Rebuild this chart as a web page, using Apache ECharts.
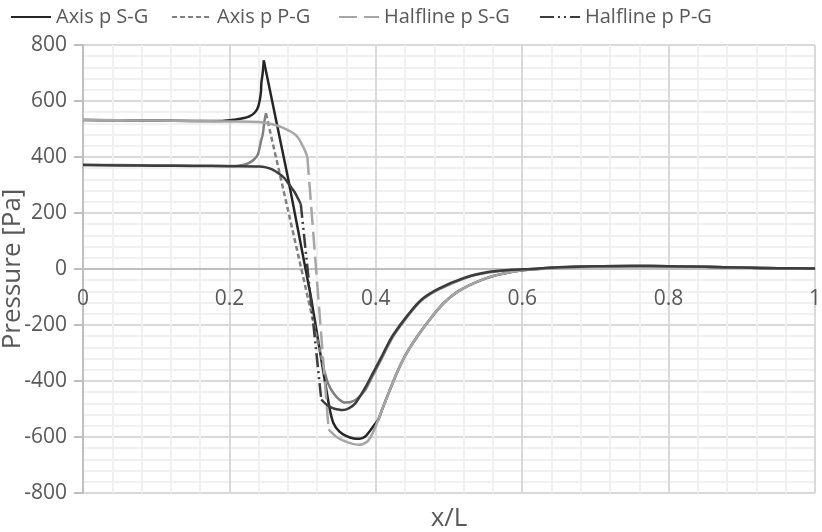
<!DOCTYPE html>
<html>
<head>
<meta charset="utf-8">
<script src="https://cdn.jsdelivr.net/npm/echarts@6/dist/echarts.min.js"></script>
<style>html,body{margin:0;padding:0;background:#fff}#c{width:822px;height:532px}</style>
</head>
<body>
<div id="c"></div>
<script>
// ---- data ----
var seriesNames = ['Axis p S-G', 'Axis p P-G', 'Halfline p S-G', 'Halfline p P-G'];
var xTicks = [0, 0.2, 0.4, 0.6, 0.8, 1];
var yTicks = [-800, -600, -400, -200, 0, 200, 400, 600, 800];

var axisSG_x = [0, 0.05, 0.1, 0.15, 0.19, 0.209, 0.22, 0.228, 0.235, 0.2395, 0.243, 0.2437, 0.2455, 0.247, 0.28, 0.3116, 0.333, 0.3366, 0.342, 0.35, 0.36, 0.37, 0.378, 0.386, 0.393, 0.3985, 0.4036, 0.4082, 0.4172, 0.4286, 0.44, 0.458, 0.4762, 0.4943, 0.517, 0.5533, 0.585, 0.612, 0.65, 0.7, 0.75, 0.8, 0.85, 0.9, 0.95, 1];
var axisSG_y = [532, 531, 530, 529, 529, 534, 539, 546, 560, 581, 629, 665, 700, 745, 326, -103, -440, -495, -550, -580, -597, -605, -606, -597, -575, -555, -537, -505, -445, -372, -310, -236, -172, -118, -73, -31, -11, -2, 5, 10, 11, 10, 8, 5, 3, 2];
var axisSG_breaks = [13, 17];   // straight section between these indices

var axisPG_x = [0, 0.05, 0.1, 0.15, 0.2, 0.209, 0.22, 0.227, 0.234, 0.239, 0.243, 0.2455, 0.248, 0.25, 0.33, 0.335, 0.342, 0.35, 0.358, 0.366, 0.375, 0.3855, 0.396, 0.406, 0.424, 0.4444, 0.4626, 0.4853, 0.5215, 0.5533, 0.585, 0.612, 0.65, 0.7, 0.75, 0.8, 0.85, 0.9, 0.95, 1];
var axisPG_y = [372, 371, 370, 369, 368, 368, 372, 379, 392, 410, 455, 480, 530, 556, -365, -410, -443, -466, -477, -475, -462, -432, -380, -330, -240, -166, -112, -74, -33, -13, -4, 0, 6, 10, 11, 10, 8, 5, 3, 2];
var axisPG_breaks = [13, 14];   // dashed section

var halfSG_x = [0, 0.05, 0.1, 0.15, 0.2, 0.24, 0.26, 0.272, 0.283, 0.29, 0.2956, 0.3, 0.304, 0.3065, 0.3355, 0.345, 0.355, 0.365, 0.3764, 0.388, 0.396, 0.4036, 0.4082, 0.4172, 0.4286, 0.44, 0.458, 0.4762, 0.4943, 0.517, 0.5533, 0.585, 0.612, 0.65, 0.7, 0.75, 0.8, 0.85, 0.9, 0.95, 1];
var halfSG_y = [533, 531, 530, 529, 527, 525, 516, 506, 492, 480, 462, 440, 418, 400, -573, -597, -612, -622, -628, -617, -585, -537, -505, -445, -372, -310, -236, -172, -118, -73, -31, -11, -2, 3, 8, 10, 10, 8, 5, 3, 2];
var halfSG_breaks = [13, 14];

var halfPG_x = [0, 0.05, 0.1, 0.15, 0.2, 0.241, 0.25, 0.259, 0.268, 0.275, 0.282, 0.289, 0.2956, 0.2975, 0.3255, 0.333, 0.341, 0.349, 0.355, 0.363, 0.372, 0.3855, 0.396, 0.406, 0.415, 0.424, 0.4444, 0.4626, 0.4853, 0.5215, 0.5533, 0.585, 0.612, 0.65, 0.7, 0.75, 0.8, 0.85, 0.9, 0.95, 1];
var halfPG_y = [371, 370, 369, 368, 367, 366, 363, 355, 340, 325, 300, 275, 242, 232, -466, -485, -497, -502, -504, -498, -480, -424, -372, -323, -276, -234, -162, -109, -71, -31, -11, -3, 0, 6, 10, 11, 10, 8, 5, 3, 2];
var halfPG_breaks = [13, 14];

// ---- chart ----
var FONT = '"Open Sans", sans-serif';
var LABEL = '#595959';
var GRID_TOP = 45, GRID_BOTTOM = 39, H = 532;
var plotH = H - GRID_TOP - GRID_BOTTOM;
var yMin = -800, yMax = 800;
// move the x axis (line + labels) up to the y = 0 position
var xAxisOffset = -plotH * (0 - yMin) / (yMax - yMin);

function pts(xs, ys, a, b) {
  var out = [];
  for (var i = a; i <= b; i++) out.push([xs[i], ys[i]]);
  return out;
}
function mk(name, data, color, dash, smooth) {
  return {
    name: name, type: 'line', data: data, symbol: 'none', showSymbol: false,
    smooth: smooth ? 0.3 : false,
    animation: false, silent: true,
    lineStyle: { color: color, width: 2.5, type: dash || 'solid', cap: 'butt', join: 'round' },
    itemStyle: { color: color }
  };
}
function split(name, xs, ys, br, color, dash) {
  var n = xs.length - 1;
  return [
    mk(name, pts(xs, ys, br[0], br[1]), color, dash, false),
    mk(name + ' \u200b', pts(xs, ys, 0, br[0]), color, null, true),
    mk(name + ' \u200b\u200b', pts(xs, ys, br[1], n), color, null, true)
  ];
}

var series = [];
series = series.concat(split(seriesNames[0], axisSG_x, axisSG_y, axisSG_breaks, '#262626', null));
series = series.concat(split(seriesNames[1], axisPG_x, axisPG_y, axisPG_breaks, '#808080', [5, 3]));
series = series.concat(split(seriesNames[2], halfSG_x, halfSG_y, halfSG_breaks, '#a6a6a6', [18, 7]));
series = series.concat(split(seriesNames[3], halfPG_x, halfPG_y, halfPG_breaks, '#3c3c3c', [14, 4, 2, 4, 2, 4]));

var legendLeft = [5, 166, 333, 534];
var legends = seriesNames.map(function (nm, i) {
  return {
    data: [nm], top: 2, left: legendLeft[i], itemWidth: 40, itemHeight: 20, itemGap: 10,
    itemStyle: { opacity: 0 },
    textStyle: { fontFamily: FONT, fontSize: 20, color: LABEL }
  };
});

var chart = echarts.init(document.getElementById('c'), null, { renderer: 'canvas' });
chart.setOption({
  backgroundColor: '#fff',
  animation: false,
  textStyle: { fontFamily: FONT },
  legend: legends,
  grid: { left: 83, right: 7, top: GRID_TOP, bottom: GRID_BOTTOM, containLabel: false, outerBoundsMode: 'none' },
  xAxis: {
    type: 'value', min: 0, max: 1, interval: 0.2, position: 'bottom', offset: xAxisOffset,
    axisLine: { show: true, onZero: false, lineStyle: { color: '#bfbfbf', width: 2 } },
    axisTick: { show: false },
    minorTick: { show: false, splitNumber: 5 },
    axisLabel: { margin: 20, fontSize: 21, color: LABEL, fontFamily: FONT,
      formatter: function (v) { return String(+v.toFixed(1)); } },
    splitLine: { show: true, lineStyle: { color: '#d9d9d9', width: 2 } },
    minorSplitLine: { show: true, lineStyle: { color: '#f0f0f0', width: 2 } }
  },
  yAxis: {
    type: 'value', min: yMin, max: yMax, interval: 200,
    name: 'Pressure [Pa]', nameLocation: 'middle', nameGap: 57, nameRotate: 90,
    nameMoveOverlap: false,
    nameTextStyle: { fontSize: 26, color: LABEL, fontFamily: FONT },
    axisLine: { show: true, onZero: false, lineStyle: { color: '#bfbfbf', width: 2 } },
    axisTick: { show: true, length: 9, lineStyle: { color: '#bfbfbf', width: 2 } },
    minorTick: { show: false, splitNumber: 5 },
    axisLabel: { margin: 16, fontSize: 21, color: LABEL, fontFamily: FONT },
    splitLine: { show: true, lineStyle: { color: '#d9d9d9', width: 2 } },
    minorSplitLine: { show: true, lineStyle: { color: '#f0f0f0', width: 2 } }
  },
  graphic: [{
    type: 'text', silent: true,
    style: { text: 'x/L', x: 449, y: 519, textAlign: 'center', textVerticalAlign: 'middle',
      font: '26px ' + FONT, fill: LABEL }
  }],
  series: series
});
</script>
</body>
</html>
